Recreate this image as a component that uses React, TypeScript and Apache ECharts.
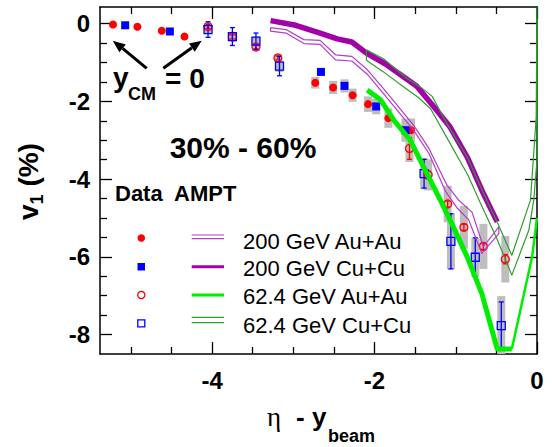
import React, { useEffect, useRef } from "react";
import * as echarts from "echarts";

// axis ranges and ticks
const xMin = -5.38;
const xMax = 0;
const yMin = -8.5;
const yMax = 0.43;
const xMajor = [-4, -2, 0];
const xMinor = [-5, -4.5, -3.5, -3, -2.5, -1.5, -1, -0.5];
const yMajor = [0, -2, -4, -6, -8];
const yMinor = [-0.5, -1, -1.5, -2.5, -3, -3.5, -4.5, -5, -5.5, -6.5, -7, -7.5];

// Data: 200 GeV Au+Au (filled red circles)
const au200X = [-5.22, -4.92, -4.62, -4.34, -2.73, -2.51, -2.27, -2.08, -1.83, -1.55];
const au200Y = [-0.02, -0.08, -0.18, -0.33, -1.52, -1.64, -1.84, -2.07, -2.43, -2.74];
const au200Sys = [0, 0, 0, 0, 0.15, 0.17, 0.17, 0.2, 0.25, 0.3];

// Data: 200 GeV Cu+Cu (filled blue squares)
const cu200X = [-5.07, -4.52, -2.66, -2.37, -1.98, -1.62];
const cu200Y = [-0.04, -0.2, -1.24, -1.6, -2.13, -2.74];
const cu200Sys = [0, 0, 0.1, 0.17, 0.2, 0.3];

// Data: 62.4 GeV Au+Au (open red circles)
const au62X = [-4.05, -3.75, -3.46, -3.19, -1.57, -1.34, -1.1, -0.9, -0.66, -0.39];
const au62Y = [-0.07, -0.34, -0.6, -0.88, -3.21, -3.89, -4.64, -5.24, -5.73, -6.06];
const au62Err = [0.05, 0.05, 0.05, 0.05, 0.28, 0.1, 0.08, 0.08, 0.08, 0.12];
const au62Sys = [0.08, 0.1, 0.1, 0.1, 0.35, 0.4, 0.47, 0.55, 0.58, 0.6];

// Data: 62.4 GeV Cu+Cu (open blue squares)
const cu62X = [-4.05, -3.75, -3.46, -3.17, -1.39, -1.06, -0.76, -0.44];
const cu62Y = [-0.15, -0.33, -0.45, -1.09, -3.86, -5.6, -6.01, -7.77];
const cu62Err = [0.2, 0.23, 0.21, 0.25, 0.37, 0.71, 0.5, 0.61];
const cu62Sys = [0.1, 0.12, 0.12, 0.15, 0.4, 0.72, 0.5, 0.76];

// AMPT 200 GeV Au+Au band (outline)
const ampAu200UpX = [-3.28, -3.09, -2.87, -2.67, -2.48, -2.28, -2.09, -1.89, -1.72, -1.52, -1.33, -1.11, -0.96, -0.8, -0.66, -0.47];
const ampAu200UpY = [-0.1, -0.15, -0.41, -0.43, -0.8, -0.84, -1.18, -1.67, -2.1, -2.61, -3.21, -4.15, -4.55, -4.85, -5.74, -5.23];
const ampAu200LoX = [-3.28, -3.09, -2.87, -2.67, -2.48, -2.28, -2.09, -1.89, -1.72, -1.52, -1.33, -1.13, -0.98, -0.84, -0.68, -0.47];
const ampAu200LoY = [-0.19, -0.24, -0.51, -0.53, -0.93, -0.96, -1.3, -1.8, -2.23, -2.74, -3.34, -4.3, -4.75, -5.05, -5.91, -5.4];

// AMPT 200 GeV Cu+Cu (thick purple)
const ampCu200X = [-3.28, -2.97, -2.67, -2.46, -2.28, -2.09, -1.87, -1.64, -1.48, -1.27, -1.07, -0.86, -0.66, -0.49];
const ampCu200Y = [0.08, -0.04, -0.24, -0.39, -0.47, -0.77, -1.03, -1.37, -1.61, -2.14, -2.66, -3.43, -4.37, -5.1];

// AMPT 62.4 GeV Au+Au (thick green)
const ampAu62X = [-2.09, -1.93, -1.76, -1.56, -1.19, -1.03, -0.86, -0.68, -0.49, -0.31];
const ampAu62Y = [-1.71, -1.95, -2.49, -3.0, -4.54, -5.23, -6.0, -6.94, -8.37, -8.37];
const ampAu62RX = [-0.31, -0.06, 0.0];
const ampAu62RY = [-8.37, -6.0, -5.0];

// AMPT 62.4 GeV Cu+Cu band (outline)
const ampCu62UpX = [-2.1, -1.89, -1.6, -1.41, -1.29, -1.11, -0.86, -0.65, -0.47, -0.31, -0.08, -0.01, 0.0];
const ampCu62UpY = [-0.67, -0.9, -1.41, -1.67, -1.87, -2.57, -3.43, -4.4, -5.2, -5.96, -4.54, -2.4, 0.43];
const ampCu62LoX = [-2.1, -1.89, -1.64, -1.46, -1.31, -1.07, -0.85, -0.7, -0.5, -0.31, -0.1, -0.04, 0.0];
const ampCu62LoY = [-0.94, -1.24, -1.63, -1.9, -2.19, -3.08, -3.9, -4.6, -5.5, -6.47, -5.31, -4.54, -3.5];

const legendLabels = ["200 GeV Au+Au", "200 GeV Cu+Cu", "62.4 GeV Au+Au", "62.4 GeV Cu+Cu"];

const RED = "#ff0000";
const BLUE = "#0000ff";
const PURPLE = "#a400a8";
const MAGENTA = "#b63ccc";
const GREEN = "#00ee00";
const DGREEN = "#2f9e2f";
const GRAY = "#bdbdbd";
const FONT = "Liberation Sans";

const zip = (xs: number[], ys: number[]) => xs.map((x, i) => [x, ys[i]]);
const zip3 = (xs: number[], ys: number[], es: number[]) => xs.map((x, i) => [x, ys[i], es[i]]);
const band = (ux: number[], uy: number[], lx: number[], ly: number[]) => {
  const up = zip(ux, uy);
  const lo = zip(lx, ly).reverse();
  return [...up, ...lo, up[0]];
};

function sysRender(params: any, api: any) {
  const x = api.value(0), y = api.value(1), e = api.value(2);
  if (!e) return null;
  const a = api.coord([x, y + e]);
  const b = api.coord([x, y - e]);
  return {
    type: "rect",
    shape: { x: a[0] - 4, y: a[1], width: 8, height: b[1] - a[1] },
    style: { fill: GRAY },
  };
}

function errRender(color: string) {
  return (params: any, api: any) => {
    const x = api.value(0), y = api.value(1), e = api.value(2);
    const a = api.coord([x, y + e]);
    const b = api.coord([x, y - e]);
    const st = { stroke: color, lineWidth: 1.3 };
    return {
      type: "group",
      children: [
        { type: "line", shape: { x1: a[0], y1: a[1], x2: b[0], y2: b[1] }, style: st },
        { type: "line", shape: { x1: a[0] - 2.5, y1: a[1], x2: a[0] + 2.5, y2: a[1] }, style: st },
        { type: "line", shape: { x1: b[0] - 2.5, y1: b[1], x2: b[0] + 2.5, y2: b[1] }, style: st },
      ],
    };
  };
}

export default function App() {
  const ref = useRef<HTMLDivElement>(null);
  useEffect(() => {
    const chart = echarts.init(ref.current!, null, { renderer: "svg" });
    const axisLineStyle = { color: "#000", width: 1.5 };
    const mkX = (pos: string, major: boolean, showLine: boolean, showLabel: boolean) => ({
      type: "value",
      min: xMin,
      max: xMax,
      position: pos,
      axisLine: { show: showLine, onZero: false, lineStyle: axisLineStyle },
      axisTick: {
        show: true,
        inside: true,
        length: major ? 12 : 7,
        customValues: major ? xMajor : xMinor,
        lineStyle: { color: "#000", width: 1.3 },
      },
      axisLabel: {
        show: showLabel,
        customValues: xMajor,
        margin: 14,
        fontSize: 24,
        fontWeight: "bold",
        fontFamily: FONT,
        color: "#000",
      },
      splitLine: { show: false },
    });
    const mkY = (pos: string, major: boolean, showLine: boolean, showLabel: boolean) => ({
      type: "value",
      min: yMin,
      max: yMax,
      position: pos,
      axisLine: { show: showLine, onZero: false, lineStyle: axisLineStyle },
      axisTick: {
        show: true,
        inside: true,
        length: major ? 12 : 7,
        customValues: major ? yMajor : yMinor,
        lineStyle: { color: "#000", width: 1.3 },
      },
      axisLabel: {
        show: showLabel,
        customValues: yMajor,
        margin: 10,
        fontSize: 24,
        fontWeight: "bold",
        fontFamily: FONT,
        color: "#000",
      },
      splitLine: { show: false },
    });

    const lineSeries = (data: any[], color: string, width: number) => ({
      type: "line",
      data,
      showSymbol: false,
      symbol: "none",
      silent: true,
      lineStyle: { color, width, join: "round" },
      itemStyle: { color },
      clip: true,
    });

    const txt = (x: number, y: number, text: string, size: number, bold: boolean, extra: any = {}) => ({
      type: "text",
      x,
      y,
      silent: true,
      style: {
        text,
        fontSize: size,
        fontWeight: bold ? "bold" : "normal",
        fontFamily: FONT,
        fill: "#000",
        verticalAlign: "middle",
        align: "left",
        ...extra,
      },
    });

    const legendRowsY = [241.7, 268.3, 296.7, 325];

    const option: any = {
      animation: false,
      backgroundColor: "#fff",
      textStyle: { fontFamily: FONT },
      grid: { left: 100, top: 7, width: 437, height: 347, containLabel: false },
      xAxis: [mkX("bottom", true, true, true), mkX("bottom", false, false, false), mkX("top", true, true, false), mkX("top", false, false, false)],
      yAxis: [mkY("left", true, true, true), mkY("left", false, false, false), mkY("right", true, true, false), mkY("right", false, false, false)],
      series: [
        lineSeries(zip(ampCu200X, ampCu200Y), PURPLE, 5.5),
        lineSeries(band(ampAu200UpX, ampAu200UpY, ampAu200LoX, ampAu200LoY), MAGENTA, 1.2),
        lineSeries(zip(ampAu62X, ampAu62Y), GREEN, 5),
        lineSeries(zip(ampAu62RX, ampAu62RY), GREEN, 2.5),
        lineSeries(band(ampCu62UpX, ampCu62UpY, ampCu62LoX, ampCu62LoY), DGREEN, 1.2),
        {
          type: "custom",
          renderItem: sysRender,
          data: [
            ...zip3(au200X, au200Y, au200Sys),
            ...zip3(cu200X, cu200Y, cu200Sys),
            ...zip3(au62X, au62Y, au62Sys),
            ...zip3(cu62X, cu62Y, cu62Sys),
          ],
          clip: true,
          silent: true,
        },
        { type: "custom", renderItem: errRender(RED), data: zip3(au62X, au62Y, au62Err), clip: true, silent: true },
        { type: "custom", renderItem: errRender(BLUE), data: zip3(cu62X, cu62Y, cu62Err), clip: true, silent: true },
        {
          type: "scatter",
          data: zip(au200X, au200Y),
          symbol: "circle",
          symbolSize: 8,
          itemStyle: { color: RED, opacity: 1 },
          silent: true,
        },
        {
          type: "scatter",
          data: zip(cu200X, cu200Y),
          symbol: "rect",
          symbolSize: 8,
          itemStyle: { color: BLUE, opacity: 1 },
          silent: true,
        },
        {
          type: "scatter",
          data: zip(au62X, au62Y),
          symbol: "circle",
          symbolSize: 8,
          itemStyle: { color: "rgba(0,0,0,0)", borderColor: RED, borderWidth: 1.3, opacity: 1 },
          silent: true,
        },
        {
          type: "scatter",
          data: zip(cu62X, cu62Y),
          symbol: "rect",
          symbolSize: 8,
          itemStyle: { color: "rgba(0,0,0,0)", borderColor: BLUE, borderWidth: 1.3, opacity: 1 },
          silent: true,
        },
      ],
      graphic: [
        // arrows
        { type: "line", silent: true, shape: { x1: 146.7, y1: 68.3, x2: 122.6, y2: 48.3 }, style: { stroke: "#000", lineWidth: 3 } },
        { type: "polygon", silent: true, shape: { points: [[112.7, 40.7], [125.8, 44.4], [119.4, 52.2]] }, style: { fill: "#000" } },
        { type: "line", silent: true, shape: { x1: 163.3, y1: 68.3, x2: 191.9, y2: 47.7 }, style: { stroke: "#000", lineWidth: 3 } },
        { type: "polygon", silent: true, shape: { points: [[201.7, 40.7], [194.8, 51.8], [189.0, 43.6]] }, style: { fill: "#000" } },
        // y_CM = 0
        txt(113, 77.3, "y", 28, true),
        txt(128, 93.8, "CM", 18, true),
        txt(165, 78.3, "= 0", 28, true),
        // centrality
        txt(243, 147.5, "30% - 60%", 30, true, { align: "center" }),
        // Data AMPT
        txt(115, 193.1, "Data  AMPT", 22, true),
        // legend markers
        { type: "circle", silent: true, shape: { cx: 141.3, cy: 238, r: 3.8 }, style: { fill: RED } },
        { type: "rect", silent: true, shape: { x: 137.5, y: 263, width: 7.5, height: 7.5 }, style: { fill: BLUE } },
        { type: "circle", silent: true, shape: { cx: 141.3, cy: 295, r: 3.6 }, style: { fill: "none", stroke: RED, lineWidth: 1.3 } },
        { type: "rect", silent: true, shape: { x: 137.8, y: 319.8, width: 7, height: 7 }, style: { fill: "none", stroke: BLUE, lineWidth: 1.3 } },
        // legend lines
        { type: "line", silent: true, shape: { x1: 191.7, y1: 235, x2: 224, y2: 235 }, style: { stroke: MAGENTA, lineWidth: 1.2 } },
        { type: "line", silent: true, shape: { x1: 191.7, y1: 238.7, x2: 224, y2: 238.7 }, style: { stroke: MAGENTA, lineWidth: 1.2 } },
        { type: "line", silent: true, shape: { x1: 191.7, y1: 266.7, x2: 224, y2: 266.7 }, style: { stroke: PURPLE, lineWidth: 3 } },
        { type: "line", silent: true, shape: { x1: 191.7, y1: 295, x2: 224, y2: 295 }, style: { stroke: GREEN, lineWidth: 3 } },
        { type: "line", silent: true, shape: { x1: 191.7, y1: 317.3, x2: 224, y2: 317.3 }, style: { stroke: DGREEN, lineWidth: 1.2 } },
        { type: "line", silent: true, shape: { x1: 191.7, y1: 322.7, x2: 224, y2: 322.7 }, style: { stroke: DGREEN, lineWidth: 1.2 } },
        ...legendLabels.map((l, i) => txt(243, legendRowsY[i], l, 22, false)),
        // x-axis title
        txt(267, 417, "η", 27, false, { fontFamily: "Liberation Serif" }),
        txt(296, 416.5, "- y", 26, true),
        txt(328, 436, "beam", 18, true),
        // y-axis title (rotated)
        {
          type: "group",
          x: 38,
          y: 220,
          rotation: Math.PI / 2,
          silent: true,
          children: [
            txt(0, -9.7, "v", 28, true),
            txt(15.6, -1.2, "1", 18, true),
            txt(33.4, -9.7, "(%)", 28, true),
          ],
        },
      ],
    };
    chart.setOption(option);
    return () => chart.dispose();
  }, []);
  return (
    <div
      ref={ref}
      style={{ position: "fixed", left: 0, top: 0, width: 552, height: 447, background: "#fff" }}
    />
  );
}
